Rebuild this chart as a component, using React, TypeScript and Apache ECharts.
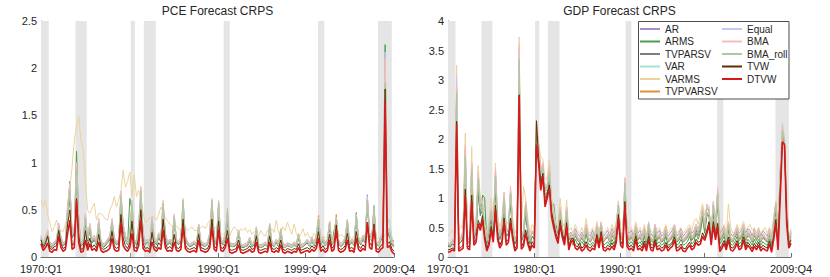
import React, { useEffect, useRef } from 'react';
import * as echarts from 'echarts';

const xTickIndex = [0, 40, 80, 119, 159];
const xTickLabels = ['1970:Q1', '1980:Q1', '1990:Q1', '1999:Q4', '2009:Q4'];
const recessionStart = [0, 15.5, 40.4, 46.3, 82.3, 124.8, 151.8];
const recessionEnd = [3.5, 20.6, 42.3, 51.7, 85, 127.6, 158];

const seriesNames = ['AR', 'ARMS', 'TVPARSV', 'VAR', 'VARMS', 'TVPVARSV', 'Equal', 'BMA', 'BMA_roll', 'TVW', 'DTVW'];
const legendCol1 = ['AR', 'ARMS', 'TVPARSV', 'VAR', 'VARMS', 'TVPVARSV'];
const legendCol2 = ['Equal', 'BMA', 'BMA_roll', 'TVW', 'DTVW'];
const seriesColors = ['#a58fc9', '#4c9f4c', '#7f7f7f', '#a6e3d7', '#ecd39c', '#d9943a', '#c5c8f7', '#f7bcb4', '#a9c9a4', '#5c2e00', '#d7191c'];
const seriesWidths = [1, 1, 1, 1, 1, 1, 1, 1, 1, 1, 1.6];

// ---------------- PCE ----------------
const pceAR = [
  .20,.14,.19,.25,.13,.12,.14,.17, .30,.18,.13,.15,.45,.60,.22,.26,
  .80,.35,.13,.15,.38,.18,.30,.17, .20,.14,.33,.15,.12,.13,.17,.20,
  .33,.18,.14,.17,.55,.30,.20,.14, .22,.48,.17,.14,.30,.60,.22,.14,
  .17,.12,.36,.18,.14,.22,.18,.48, .22,.14,.17,.13,.38,.17,.14,.18,
  .50,.20,.14,.12,.13,.15,.12,.30, .15,.13,.12,.14,.22,.50,.20,.14,
  .48,.17,.14,.22,.40,.13,.12,.12, .14,.25,.12,.11,.12,.13,.18,.12,
  .14,.28,.12,.11,.12,.14,.12,.30, .14,.12,.16,.12,.26,.12,.11,.13,
  .12,.11,.14,.12,.22,.11,.12,.14, .16,.12,.18,.13,.20,.36,.14,.18,
  .13,.17,.32,.14,.18,.36,.16,.12, .14,.18,.34,.14,.17,.13,.38,.18,
  .14,.20,.17,.66,.22,.18,.45,.14, .13,.18,.22,1.90,.26,.22,.14,.12,
];
const pceARMS = [
  .18,.12,.17,.24,.11,.10,.13,.16, .32,.17,.12,.14,.50,.80,.20,.26,
  1.12,.38,.12,.14,.42,.17,.30,.15, .19,.13,.36,.14,.10,.12,.16,.19,
  .36,.17,.13,.15,.62,.30,.19,.13, .62,.50,.16,.13,.30,.65,.21,.13,
  .16,.11,.38,.17,.13,.22,.17,.52, .21,.13,.15,.12,.40,.16,.13,.17,
  .55,.19,.13,.11,.12,.14,.11,.30, .14,.12,.11,.13,.22,.55,.19,.13,
  .52,.16,.13,.22,.42,.12,.11,.11, .13,.25,.11,.10,.11,.12,.17,.11,
  .13,.28,.11,.10,.11,.13,.11,.32, .13,.11,.16,.11,.26,.11,.10,.12,
  .11,.10,.13,.11,.22,.10,.11,.13, .15,.11,.18,.12,.20,.38,.13,.18,
  .12,.16,.34,.13,.28,.38,.15,.11, .13,.18,.36,.13,.16,.12,.47,.18,
  .13,.20,.16,.58,.22,.18,.48,.13, .12,.18,.22,2.25,.28,.22,.13,.11,
];
const pceTVPARSV = [
  .19,.13,.17,.23,.12,.11,.13,.16, .30,.17,.12,.14,.45,.62,.20,.24,
  .90,.33,.12,.14,.38,.17,.28,.15, .18,.13,.32,.14,.11,.12,.15,.18,
  .32,.17,.13,.15,.58,.28,.18,.13, .20,.50,.16,.13,.28,.62,.20,.13,
  .16,.11,.34,.16,.13,.20,.16,.50, .20,.13,.15,.12,.36,.15,.13,.16,
  .52,.18,.13,.11,.12,.14,.11,.28, .13,.12,.11,.13,.20,.52,.18,.13,
  .50,.15,.13,.20,.40,.12,.11,.11, .13,.23,.11,.10,.11,.12,.16,.11,
  .13,.26,.11,.10,.11,.13,.11,.30, .13,.11,.15,.11,.25,.11,.10,.12,
  .11,.10,.13,.11,.20,.10,.11,.13, .15,.11,.17,.12,.18,.35,.13,.17,
  .12,.15,.32,.13,.17,.35,.14,.11, .13,.17,.33,.13,.15,.12,.38,.17,
  .13,.18,.15,.55,.21,.17,.44,.13, .12,.17,.21,1.85,.25,.21,.13,.11,
];
const pceVAR = [
  .21,.14,.19,.26,.13,.12,.14,.17, .33,.19,.13,.15,.50,.70,.23,.28,
  .92,.38,.13,.15,.42,.19,.33,.17, .21,.14,.37,.15,.12,.13,.17,.21,
  .37,.19,.14,.17,.64,.33,.21,.14, .23,.55,.17,.14,.33,.68,.23,.14,
  .17,.12,.40,.19,.14,.23,.19,.55, .23,.14,.17,.13,.42,.17,.14,.19,
  .57,.21,.14,.12,.13,.15,.12,.33, .15,.13,.12,.14,.23,.57,.21,.14,
  .55,.17,.14,.23,.45,.13,.12,.12, .14,.26,.12,.11,.12,.13,.19,.12,
  .14,.30,.12,.11,.12,.14,.12,.33, .14,.12,.17,.12,.28,.12,.11,.13,
  .12,.11,.14,.12,.23,.11,.12,.14, .17,.12,.19,.13,.21,.40,.14,.19,
  .13,.17,.36,.14,.19,.40,.16,.12, .14,.19,.38,.14,.17,.13,.42,.19,
  .14,.21,.17,.58,.24,.19,.55,.14, .13,.19,.24,1.95,.35,.40,.22,.15,
];
const pceVARMS = [
  .60,.53,.60,.45,.36,.27,.32,.39, .30,.28,.27,.35,.43,.74,.95,1.24,
  1.38,1.49,1.24,1.13,.80,.50,.46,.52, .57,.39,.46,.46,.44,.40,.39,.50,
  .55,.64,.53,.60,.70,.92,.74,.80, .90,.64,.87,.64,.71,.60,.46,.36,
  .39,.42,.40,.43,.39,.45,.53,.48, .42,.38,.35,.33,.30,.33,.30,.29,
  .30,.32,.28,.30,.32,.28,.28,.30, .31,.33,.30,.35,.39,.34,.32,.30,
  .28,.26,.24,.22,.20,.22,.28,.32, .30,.25,.30,.28,.31,.26,.29,.24,
  .27,.25,.22,.28,.24,.22,.28,.25, .30,.26,.39,.26,.25,.32,.28,.37,
  .30,.24,.35,.25,.20,.24,.30,.22, .26,.20,.21,.25,.22,.20,.19,.23,
  .20,.22,.24,.19,.22,.20,.21,.24, .22,.20,.23,.21,.19,.22,.20,.21,
  .19,.22,.20,.21,.20,.19,.21,.20, .19,.22,.20,.24,.22,.20,.17,.15,
];
const pceTVPVARSV = [
  .22,.16,.21,.27,.15,.14,.16,.19, .34,.21,.15,.17,.52,.72,.25,.29,
  .95,.40,.15,.17,.44,.21,.34,.19, .23,.16,.38,.17,.14,.15,.19,.22,
  .38,.21,.16,.19,.66,.34,.22,.16, .25,.57,.19,.16,.34,.70,.25,.16,
  .19,.14,.41,.21,.16,.25,.21,.57, .25,.16,.19,.15,.43,.19,.16,.21,
  .58,.23,.16,.14,.15,.17,.14,.35, .17,.15,.14,.16,.25,.58,.23,.16,
  .56,.19,.16,.25,.46,.15,.14,.14, .16,.28,.14,.13,.14,.15,.21,.14,
  .16,.31,.14,.13,.14,.16,.14,.35, .16,.14,.19,.14,.30,.14,.13,.15,
  .14,.13,.16,.14,.25,.13,.14,.16, .19,.14,.21,.15,.23,.44,.16,.21,
  .15,.19,.38,.16,.21,.45,.18,.14, .16,.21,.39,.16,.19,.15,.44,.21,
  .16,.23,.19,.60,.26,.21,.53,.16, .15,.21,.26,2.00,.30,.26,.18,.17,
];
const pceEqual = [
  .23,.16,.21,.29,.15,.13,.16,.19, .36,.21,.15,.17,.56,.76,.26,.31,
  .98,.41,.15,.17,.46,.21,.36,.19, .23,.16,.41,.17,.13,.15,.19,.23,
  .41,.21,.16,.19,.68,.36,.23,.16, .26,.60,.19,.16,.36,.73,.26,.16,
  .19,.13,.43,.21,.16,.26,.21,.58, .26,.16,.19,.15,.45,.19,.16,.21,
  .60,.23,.16,.14,.15,.17,.13,.35, .17,.15,.13,.16,.26,.60,.23,.16,
  .58,.19,.16,.26,.47,.15,.13,.14, .16,.29,.14,.13,.13,.15,.21,.14,
  .16,.32,.14,.12,.14,.16,.13,.35, .16,.13,.19,.14,.30,.13,.12,.15,
  .13,.12,.16,.13,.25,.12,.13,.16, .19,.13,.21,.15,.23,.42,.16,.21,
  .14,.19,.38,.16,.21,.42,.18,.13, .16,.21,.40,.16,.19,.14,.45,.21,
  .16,.23,.19,.64,.26,.21,.52,.16, .14,.21,.26,2.17,.31,.26,.16,.13,
];
const pceBMA = [
  .22,.15,.20,.28,.14,.12,.15,.18, .35,.20,.14,.16,.55,.78,.25,.30,
  1.00,.40,.14,.16,.45,.20,.35,.18, .22,.15,.40,.16,.12,.14,.18,.22,
  .40,.20,.15,.18,.70,.35,.22,.15, .25,.60,.18,.15,.35,.75,.25,.15,
  .18,.12,.42,.20,.15,.25,.20,.60, .25,.15,.18,.14,.45,.18,.15,.20,
  .62,.22,.15,.13,.14,.16,.12,.35, .16,.14,.12,.15,.25,.62,.22,.15,
  .60,.18,.15,.25,.48,.14,.12,.13, .15,.28,.13,.12,.12,.14,.20,.13,
  .15,.32,.13,.11,.13,.15,.12,.36, .15,.12,.18,.13,.30,.12,.11,.14,
  .12,.11,.15,.12,.25,.11,.12,.15, .18,.12,.20,.14,.22,.42,.15,.20,
  .13,.18,.38,.15,.20,.42,.17,.12, .15,.20,.40,.15,.18,.13,.45,.20,
  .15,.22,.18,.62,.25,.20,.52,.15, .13,.20,.25,2.10,.30,.25,.15,.12,
];
const pceBMAroll = [
  .20,.14,.18,.25,.13,.11,.14,.17, .32,.18,.13,.15,.50,.70,.23,.27,
  .92,.36,.13,.15,.41,.18,.32,.17, .20,.14,.36,.15,.11,.13,.17,.20,
  .37,.18,.14,.17,.64,.32,.20,.14, .23,.56,.17,.14,.32,.70,.23,.14,
  .17,.11,.39,.18,.14,.23,.18,.56, .23,.14,.17,.13,.42,.17,.14,.18,
  .60,.20,.14,.12,.13,.15,.11,.32, .15,.13,.11,.14,.23,.60,.20,.14,
  .58,.17,.14,.23,.52,.13,.11,.12, .14,.26,.12,.11,.11,.13,.18,.12,
  .14,.30,.12,.10,.12,.14,.11,.34, .14,.11,.17,.12,.28,.11,.10,.13,
  .11,.10,.14,.11,.23,.10,.11,.14, .17,.11,.19,.13,.20,.40,.14,.19,
  .12,.17,.36,.14,.19,.40,.16,.11, .14,.19,.38,.14,.17,.12,.43,.19,
  .14,.21,.17,.60,.24,.19,.55,.14, .12,.19,.24,1.85,.30,.30,.16,.12,
];
const pceTVW = [
  .18,.10,.14,.22,.09,.08,.11,.12, .28,.14,.09,.11,.35,.50,.12,.15,
  .62,.22,.08,.09,.28,.11,.20,.10, .13,.09,.24,.10,.08,.09,.11,.13,
  .27,.12,.09,.11,.45,.20,.12,.09, .15,.38,.11,.09,.20,.50,.14,.09,
  .10,.08,.26,.12,.09,.15,.12,.40, .15,.09,.11,.09,.24,.10,.09,.12,
  .40,.13,.09,.08,.09,.10,.08,.24, .10,.09,.08,.09,.14,.40,.12,.09,
  .38,.10,.09,.14,.28,.08,.07,.08, .09,.18,.08,.07,.08,.09,.12,.08,
  .09,.22,.08,.07,.08,.09,.08,.22, .09,.08,.10,.08,.18,.08,.07,.09,
  .08,.07,.09,.08,.14,.07,.08,.09, .10,.08,.12,.09,.13,.27,.09,.12,
  .08,.10,.24,.09,.12,.34,.10,.08, .09,.12,.25,.09,.10,.08,.27,.12,
  .09,.13,.10,.36,.15,.12,.35,.09, .08,.12,.14,1.78,.14,.16,.09,.06,
];
const pceDTVW = [
  .14,.07,.10,.15,.06,.05,.08,.07, .22,.10,.06,.08,.25,.39,.08,.10,
  .60,.15,.05,.06,.18,.07,.14,.07, .09,.06,.16,.07,.05,.06,.07,.09,
  .20,.08,.06,.07,.37,.12,.08,.06, .10,.25,.07,.06,.12,.39,.09,.06,
  .07,.05,.16,.08,.06,.10,.08,.29, .10,.06,.07,.06,.16,.07,.06,.08,
  .32,.09,.06,.05,.06,.07,.05,.18, .07,.06,.05,.06,.10,.32,.08,.06,
  .29,.07,.06,.10,.20,.05,.04,.05, .06,.13,.05,.04,.05,.06,.08,.05,
  .06,.16,.05,.04,.05,.06,.05,.16, .06,.05,.07,.05,.13,.05,.04,.06,
  .05,.04,.06,.05,.10,.04,.05,.06, .07,.05,.08,.06,.09,.20,.06,.08,
  .05,.07,.18,.06,.08,.29,.07,.05, .06,.08,.18,.06,.07,.05,.20,.08,
  .06,.09,.07,.37,.10,.08,.32,.06, .05,.08,.10,1.65,.10,.12,.06,.03,
];

// ---------------- GDP ----------------
const gdpAR = [
  .22,.20,.28,.25,2.70,.28,.32,.40, 1.70,.32,.28,1.45,.38,.50,1.30,.85,
  .85,.45,.28,.50,.80,.45,1.35,.55, .38,.50,1.00,.42,.45,1.10,.50,.28,
  .38,3.30,.32,.42,.85,.50,.28,.42, .38,2.10,1.80,1.40,1.50,1.10,1.15,1.45,
  .90,.65,.42,.45,.80,.48,.38,.80, .38,.42,.35,.48,.40,.35,.42,.35,
  .55,.40,.35,.45,.35,.55,.40,.58, .35,.40,.45,.35,.48,.40,.55,.90,
  .42,.38,1.25,.45,.40,.45,.35,.55, .40,.45,.35,.50,.35,.58,.40,.35,
  .55,.40,.45,.35,.40,.52,.35,.40, .45,.55,.35,.40,.48,.35,.40,.45,
  .50,.40,.45,.55,.48,.58,.80,.55, .85,.80,.45,.90,.55,1.10,.40,.45,
  .52,.35,.58,.40,.35,.42,.50,.40, .45,.55,.40,.48,.45,.35,.48,.40,
  .48,.35,.45,.40,.35,.48,.32,.62, .90,.42,1.45,2.10,1.90,.85,.32,.42,
];
const gdpARMS = [
  .20,.18,.22,.20,2.60,.22,.25,.30, 1.55,.25,.22,1.30,.30,.40,1.05,.70,
  1.05,1.00,.25,.45,.65,.35,1.20,.45, .30,.40,.85,.35,.40,.95,.45,.22,
  .30,3.20,.28,.35,.75,.40,.22,.35, .30,2.10,1.75,1.35,1.40,1.05,1.10,1.40,
  .85,.90,.55,.40,.70,.40,.30,.70, .22,.28,.20,.30,.22,.20,.26,.20,
  .40,.22,.20,.25,.20,.38,.22,.42, .20,.22,.26,.20,.30,.22,.38,.80,
  .28,.22,1.10,.30,.22,.26,.20,.40, .22,.26,.20,.35,.20,.40,.22,.20,
  .38,.22,.26,.20,.22,.35,.20,.22, .26,.38,.20,.22,.30,.20,.22,.26,
  .35,.22,.26,.40,.30,.42,.65,.40, .70,.70,.28,.75,.40,.95,.22,.28,
  .35,.20,.45,.22,.20,.26,.35,.22, .26,.40,.22,.30,.26,.20,.30,.22,
  .30,.20,.26,.22,.20,.30,.18,.50, .80,.25,1.30,2.00,1.85,.70,.22,.30,
];
const gdpTVPARSV = [
  .18,.17,.22,.20,2.50,.22,.26,.33, 1.50,.28,.24,1.30,.32,.42,1.15,.72,
  .78,.40,.22,.42,.68,.38,1.20,.45, .30,.42,.88,.36,.38,.95,.42,.22,
  .30,3.10,.26,.35,.72,.42,.22,.35, .30,2.05,1.70,1.30,1.40,1.00,1.08,1.35,
  .80,.58,.36,.38,.70,.40,.30,.70, .28,.32,.25,.36,.28,.25,.32,.25,
  .45,.30,.25,.33,.25,.45,.30,.48, .25,.30,.33,.25,.36,.30,.45,.80,
  .32,.28,1.15,.36,.28,.33,.25,.45, .28,.33,.25,.40,.25,.48,.28,.25,
  .45,.28,.33,.25,.28,.40,.25,.28, .33,.45,.25,.28,.36,.25,.28,.33,
  .40,.28,.33,.45,.36,.48,.70,.45, .75,.70,.33,.80,.45,1.00,.28,.33,
  .40,.25,.50,.28,.25,.33,.40,.28, .33,.45,.28,.36,.33,.25,.36,.28,
  .36,.25,.33,.28,.25,.36,.22,.55, .85,.30,1.35,2.10,1.90,.78,.25,.35,
];
const gdpVAR = [
  .22,.20,.26,.24,2.75,.26,.30,.40, 1.75,.32,.28,1.50,.36,.50,1.30,.82,
  .85,.46,.28,.50,.78,.46,1.40,.55, .36,.50,1.00,.42,.46,1.10,.50,.28,
  .36,3.35,.32,.42,.88,.50,.28,.42, .36,2.15,1.85,1.45,1.55,1.15,1.20,1.65,
  .92,.66,.42,.46,.80,.46,.36,.82, .32,.36,.28,.42,.32,.28,.36,.28,
  .50,.32,.28,.36,.28,.50,.32,.55, .28,.32,.36,.28,.42,.32,.50,.88,
  .36,.32,1.25,.42,.32,.36,.28,.50, .32,.36,.28,.46,.28,.55,.32,.28,
  .50,.32,.36,.28,.32,.46,.28,.32, .36,.50,.28,.32,.42,.28,.32,.36,
  .46,.32,.36,.50,.42,.55,.80,.50, .85,.80,.36,.90,.50,1.10,.32,.36,
  .46,.28,.55,.32,.28,.36,.46,.32, .36,.50,.32,.42,.36,.28,.42,.32,
  .42,.28,.36,.32,.28,.42,.28,.60, .92,.36,1.45,2.27,2.00,.88,.30,.40,
];
const gdpVARMS = [
  .35,.40,.45,.38,3.25,.45,.50,.60, 2.10,.45,.40,1.87,.50,.65,1.55,1.00,
  .90,.55,.40,.65,1.00,.60,1.59,.70, .50,.65,1.10,.55,.60,1.07,.65,.40,
  .50,3.73,.45,1.20,1.00,.65,.40,.55, .50,2.20,1.95,1.70,1.65,1.30,1.35,1.65,
  1.00,.80,.55,.60,1.00,.60,.50,.97, .45,.50,.40,.55,.45,.40,.50,.40,
  .65,.45,.40,.50,.40,.60,.45,.55, .40,.45,.50,.40,.55,.45,.60,.80,
  .50,.45,1.10,.55,.45,.50,.40,.60, .45,.50,.40,.55,.40,.50,.45,.40,
  .50,.45,.50,.40,.45,.55,.40,.45, .50,.55,.40,.45,.50,.40,.45,.50,
  .55,.45,.60,.65,.55,.75,.90,.70, .85,.75,.50,.85,.60,1.00,.45,.50,
  .55,.40,.90,.50,.40,.45,.55,.45, .50,.60,.45,.50,.55,.45,.50,.40,
  .50,.40,.45,.50,.40,.50,.40,.70, .90,.45,1.40,2.00,1.80,.95,.35,.48,
];
const gdpTVPVARSV = [
  .24,.22,.28,.26,2.85,.28,.33,.42, 1.80,.33,.28,1.55,.38,.52,1.35,.85,
  .88,.48,.28,.52,.80,.48,1.42,.58, .38,.52,1.02,.44,.48,1.12,.52,.28,
  .38,3.40,.33,.44,.90,.52,.28,.44, .38,2.30,1.88,1.48,1.55,1.15,1.20,1.50,
  .92,.66,.44,.48,.82,.48,.38,.82, .30,.35,.27,.40,.30,.27,.35,.27,
  .48,.30,.27,.35,.27,.48,.30,.52, .27,.30,.35,.27,.40,.30,.48,.85,
  .35,.30,1.20,.40,.30,.35,.27,.48, .30,.35,.27,.44,.27,.52,.30,.27,
  .48,.30,.35,.27,.30,.44,.27,.30, .35,.48,.27,.30,.40,.27,.30,.35,
  .44,.30,.35,.48,.40,.52,.78,.48, .82,.78,.35,.88,.48,1.05,.30,.35,
  .44,.27,.52,.30,.27,.35,.44,.30, .35,.48,.30,.40,.35,.27,.40,.30,
  .40,.27,.35,.30,.27,.40,.26,.58, .90,.35,1.40,2.05,1.92,.85,.28,.38,
];
const gdpEqual = [
  .24,.21,.29,.27,3.05,.29,.34,.44, 1.85,.34,.29,1.58,.39,.54,1.42,.88,
  .92,.49,.29,.54,.83,.49,1.48,.59, .39,.54,1.08,.44,.49,1.15,.54,.29,
  .39,3.55,.34,.44,.93,.54,.29,.44, .39,2.25,1.88,1.48,1.58,1.18,1.22,1.52,
  .93,.68,.44,.49,.83,.49,.39,.83, .34,.39,.29,.44,.34,.29,.39,.29,
  .54,.34,.29,.39,.29,.54,.34,.58, .29,.34,.39,.29,.44,.34,.54,.93,
  .39,.34,1.32,.44,.34,.39,.29,.54, .34,.39,.29,.49,.29,.58,.34,.29,
  .54,.34,.39,.29,.34,.49,.29,.34, .39,.54,.29,.34,.44,.29,.34,.39,
  .49,.34,.39,.54,.44,.58,.83,.54, .88,.83,.39,.93,.54,1.15,.34,.39,
  .49,.29,.58,.34,.29,.39,.49,.34, .39,.54,.34,.44,.39,.29,.44,.34,
  .44,.29,.39,.34,.29,.44,.29,.63, .93,.39,1.48,2.20,1.98,.88,.29,.44,
];
const gdpBMA = [
  .25,.22,.30,.28,2.90,.30,.35,.45, 1.90,.35,.30,1.60,.40,.55,1.45,.90,
  .95,.50,.30,.55,.85,.50,1.50,.60, .40,.55,1.10,.45,.50,1.20,.55,.30,
  .40,3.60,.35,.45,.95,.55,.30,.45, .40,2.28,1.90,1.50,1.60,1.20,1.25,1.55,
  .95,.70,.45,.50,.85,.50,.40,.85, .35,.40,.30,.45,.35,.30,.40,.30,
  .55,.35,.30,.40,.30,.55,.35,.60, .30,.35,.40,.30,.45,.35,.55,.95,
  .40,.35,1.35,.45,.35,.40,.30,.55, .35,.40,.30,.50,.30,.60,.35,.30,
  .55,.35,.40,.30,.35,.50,.30,.35, .40,.55,.30,.35,.45,.30,.35,.40,
  .50,.35,.40,.55,.45,.60,.85,.55, .90,.85,.40,.95,.55,1.18,.35,.40,
  .50,.30,.60,.35,.30,.40,.50,.35, .40,.55,.35,.45,.40,.30,.45,.35,
  .45,.30,.40,.35,.30,.45,.30,.65, .95,.40,1.50,2.25,2.00,.90,.30,.45,
];
const gdpBMAroll = [
  .22,.20,.27,.25,2.80,.27,.32,.40, 1.72,.32,.27,1.48,.37,.50,1.32,.82,
  .88,.46,.27,.50,.78,.46,1.38,.55, .37,.50,1.00,.41,.46,1.08,.50,.27,
  .37,3.35,.32,.41,.88,.50,.27,.41, .37,2.10,1.75,1.40,1.50,1.10,1.15,1.45,
  .88,.64,.41,.46,.78,.46,.37,.78, .32,.37,.27,.41,.32,.27,.37,.27,
  .50,.32,.27,.37,.27,.50,.32,.55, .27,.32,.37,.27,.41,.32,.50,.88,
  .37,.32,1.25,.41,.32,.37,.27,.50, .32,.37,.27,.46,.27,.55,.32,.27,
  .50,.32,.37,.27,.32,.46,.27,.32, .37,.50,.27,.32,.41,.27,.32,.37,
  .46,.32,.37,.50,.41,.55,.78,.50, .82,.78,.37,.88,.50,1.08,.32,.37,
  .46,.27,.55,.32,.27,.37,.46,.32, .37,.50,.32,.41,.37,.27,.41,.32,
  .41,.27,.37,.32,.27,.41,.27,.60, .90,.37,1.40,2.15,1.95,.85,.28,.40,
];
const gdpTVW = [
  .12,.13,.15,.13,2.30,.14,.16,.20, 1.15,.20,.16,1.05,.25,.30,.62,.52,
  .70,.36,.14,.26,.52,.30,.88,.36, .20,.28,.66,.26,.30,.66,.36,.14,
  .20,2.75,.18,.24,.46,.28,.14,.26, .20,2.31,1.68,1.22,1.42,.92,1.06,1.22,
  .76,.58,.40,.30,.62,.38,.26,.58, .17,.30,.32,.20,.17,.24,.15,.18,
  .26,.17,.15,.20,.17,.38,.20,.43, .17,.15,.20,.17,.24,.17,.30,.72,
  .26,.20,.94,.24,.17,.20,.15,.35, .17,.20,.15,.27,.15,.35,.17,.15,
  .30,.17,.20,.15,.17,.25,.15,.20, .23,.34,.15,.17,.22,.15,.14,.20,
  .25,.17,.20,.30,.25,.27,.41,.33, .46,.60,.26,.60,.34,.57,.14,.20,
  .28,.17,.34,.17,.15,.20,.28,.17, .20,.34,.17,.25,.20,.14,.23,.17,
  .25,.15,.20,.17,.15,.27,.12,.36, .64,.18,1.12,1.95,1.92,.66,.20,.28,
];
const gdpDTVW = [
  .08,.09,.12,.10,2.25,.10,.12,.15, 1.05,.15,.12,.95,.20,.25,.56,.45,
  .63,.30,.10,.20,.45,.25,.80,.30, .15,.22,.60,.20,.25,.58,.30,.10,
  .15,2.73,.13,.18,.40,.22,.10,.20, .15,1.90,1.59,1.13,1.36,.85,1.00,1.16,
  .68,.50,.34,.23,.55,.33,.20,.52, .12,.25,.28,.15,.12,.18,.10,.13,
  .20,.12,.10,.15,.12,.33,.15,.38, .12,.10,.15,.12,.18,.12,.25,.65,
  .20,.15,.87,.18,.12,.15,.10,.30, .12,.15,.10,.22,.10,.30,.12,.10,
  .25,.12,.15,.10,.12,.20,.10,.15, .18,.29,.10,.12,.17,.10,.09,.15,
  .20,.12,.15,.25,.20,.22,.35,.28, .40,.54,.20,.54,.29,.51,.09,.15,
  .23,.12,.29,.12,.10,.15,.23,.12, .15,.29,.12,.20,.15,.09,.18,.12,
  .20,.10,.15,.12,.10,.22,.08,.30, .57,.12,1.00,1.95,1.90,.55,.15,.23,
];

const pceSeries = [pceAR, pceARMS, pceTVPARSV, pceVAR, pceVARMS, pceTVPVARSV, pceEqual, pceBMA, pceBMAroll, pceTVW, pceDTVW];
const gdpSeries = [gdpAR, gdpARMS, gdpTVPARSV, gdpVAR, gdpVARMS, gdpTVPVARSV, gdpEqual, gdpBMA, gdpBMAroll, gdpTVW, gdpDTVW];

const FONT = '"Liberation Sans", Arial, Helvetica, sans-serif';
const TEXT = '#262626';
const AXIS = '#6e6e6e';

function xAxisFor(gi: number) {
  return {
    type: 'value', gridIndex: gi, min: 0, max: 159,
    axisLine: { show: true, lineStyle: { color: AXIS, width: 1 } },
    axisTick: { show: true, inside: true, length: 4, customValues: xTickIndex, lineStyle: { color: AXIS } },
    axisLabel: {
      customValues: xTickIndex, margin: 6, color: TEXT, fontSize: 11, fontFamily: FONT,
      formatter: (v: number) => xTickLabels[xTickIndex.indexOf(Math.round(v))] ?? '',
    },
    splitLine: { show: false },
  };
}
function yAxisFor(gi: number, max: number) {
  return {
    type: 'value', gridIndex: gi, min: 0, max, interval: 0.5,
    axisLine: { show: true, lineStyle: { color: AXIS, width: 1 } },
    axisTick: { show: true, inside: true, length: 4, lineStyle: { color: AXIS } },
    axisLabel: { margin: 4, color: TEXT, fontSize: 11, fontFamily: FONT },
    splitLine: { show: false },
  };
}
function linesFor(arrs: number[][], gi: number) {
  return seriesNames.map((n, k) => ({
    type: 'line', name: n, xAxisIndex: gi, yAxisIndex: gi,
    data: arrs[k].map((v, i) => [i, v]),
    symbol: 'none', showSymbol: false, silent: true, z: 2,
    lineStyle: { color: seriesColors[k], width: seriesWidths[k] },
    itemStyle: { color: seriesColors[k] },
  }));
}
function shadingFor(gi: number) {
  return {
    type: 'line', name: 'recession' + gi, xAxisIndex: gi, yAxisIndex: gi, data: [], z: 1, silent: true,
    markArea: {
      silent: true, itemStyle: { color: '#e5e5e5' },
      data: recessionStart.map((s, k) => [{ xAxis: s }, { xAxis: recessionEnd[k] }]),
    },
  };
}

export default function App() {
  const ref = useRef<HTMLDivElement>(null);
  useEffect(() => {
    document.body.style.margin = '0';
    const chart = echarts.init(ref.current!, undefined, { renderer: 'svg' });
    const legendCommon = {
      orient: 'vertical', top: 24, padding: 0, icon: 'rect', itemWidth: 20, itemHeight: 2, itemGap: 2.5,
      selectedMode: false, textStyle: { fontSize: 10, color: TEXT, fontFamily: FONT }, z: 5,
    };
    chart.setOption({
      animation: false,
      backgroundColor: '#ffffff',
      title: [
        { text: 'PCE Forecast CRPS', left: 217.5, top: 5, textAlign: 'center', padding: 0,
          textStyle: { fontSize: 12, fontWeight: 'normal', color: TEXT, fontFamily: FONT } },
        { text: 'GDP Forecast CRPS', left: 619.5, top: 5, textAlign: 'center', padding: 0,
          textStyle: { fontSize: 12, fontWeight: 'normal', color: TEXT, fontFamily: FONT } },
      ],
      grid: [
        { left: 41, right: 436, top: 21, bottom: 20 },
        { left: 448, right: 39, top: 21, bottom: 20 },
      ],
      xAxis: [xAxisFor(0), xAxisFor(1)],
      yAxis: [yAxisFor(0, 2.5), yAxisFor(1, 4)],
      legend: [
        { ...legendCommon, data: legendCol1, left: 640 },
        { ...legendCommon, data: legendCol2, left: 722 },
      ],
      graphic: [
        { type: 'rect', z: 3, silent: true,
          shape: { x: 638.5, y: 21.5, width: 150.5, height: 77.5 },
          style: { fill: '#ffffff', stroke: '#4d4d4d', lineWidth: 1 } },
      ],
      series: [
        shadingFor(0), shadingFor(1),
        ...linesFor(pceSeries, 0),
        ...linesFor(gdpSeries, 1),
      ],
    });
    return () => chart.dispose();
  }, []);
  return <div ref={ref} style={{ width: 830, height: 277 }} />;
}
